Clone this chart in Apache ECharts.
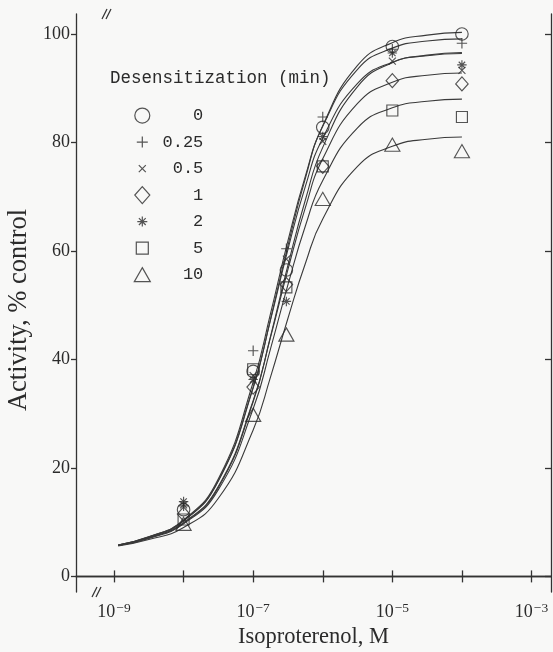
<!DOCTYPE html>
<html>
<head>
<meta charset="utf-8">
<script src="https://cdn.jsdelivr.net/npm/echarts@6/dist/echarts.min.js"></script>
<style>
  html, body { margin: 0; padding: 0; background: #f8f8f7; }
  #chart { width: 553px; height: 652px; }
</style>
</head>
<body>
<div id="chart"></div>
<script>
// Isoproterenol dose (M) at which activity was measured
const doseM = [1e-8, 1e-7, 3e-7, 1e-6, 1e-5, 1e-4];

// Desensitization time (min) for each group
const groupNames = ['0', '0.25', '0.5', '1', '2', '5', '10'];

// Measured activity, % of control
const act0   = [12.3, 37.8, 56.5, 82.8, 97.7, 100.0];
const act025 = [13.0, 41.6, 60.4, 84.7, 97.2, 98.3];
const act05  = [13.2, 37.0, 58.5, 80.2, 95.0, 93.3];
const act1   = [11.5, 34.9, 53.8, 75.6, 91.4, 90.8];
const act2   = [13.8, 36.3, 50.7, 81.1, 96.5, 94.3];
const act5   = [10.5, 38.2, 53.3, 75.6, 85.9, 84.7];
const act10  = [9.7, 29.8, 44.6, 69.6, 79.6, 78.4];

// Fitted dose-response curves, sampled along log10 dose
const fitLogDose = [-8.94, -8.5, -8, -7.5, -7, -6.75, -6.5, -6.25, -6, -5.5, -5, -4.5, -4];
const fit0   = [5.8, 7.2, 10.2, 17.6, 34.7, 47.5, 61.0, 73.4, 83.1, 94.2, 98.4, 99.8, 100.3];
const fit025 = [5.8, 7.3, 10.4, 18.0, 35.8, 48.5, 61.9, 73.8, 83.0, 93.5, 97.4, 98.7, 99.1];
const fit05  = [5.8, 7.3, 10.3, 17.7, 34.9, 47.3, 60.3, 71.9, 80.8, 90.9, 94.8, 96.0, 96.4];
const fit1   = [5.7, 7.1, 9.9, 16.6, 32.4, 44.1, 56.6, 68.0, 77.0, 87.2, 91.1, 92.4, 92.8];
const fit2   = [5.7, 7.1, 9.8, 16.4, 32.2, 44.3, 57.4, 69.4, 79.1, 90.3, 94.7, 96.1, 96.6];
const fit5   = [5.7, 7.0, 9.7, 16.0, 30.9, 42.0, 53.8, 64.6, 73.0, 82.7, 86.4, 87.6, 88.0];
const fit10  = [5.6, 6.8, 9.0, 14.4, 27.0, 36.8, 47.6, 57.7, 65.9, 75.6, 79.3, 80.6, 81.0];

// Axis ticks (x in log10 units)
const xTickExp = [-9, -8, -7, -6, -5, -4, -3];
const xLabelExp = [-9, -7, -5, -3];
const yTicks = [0, 20, 40, 60, 80, 100];

const activity = [act0, act025, act05, act1, act2, act5, act10];
const fits = [fit0, fit025, fit05, fit1, fit2, fit5, fit10];

// Marker outlines drawn in an 18x18 box; the zero-length corner segments
// keep every marker on the same scale box.
const box = 'M0 0L0 0M18 18L18 18';
const markers = [
  'path://' + box + 'M1.5 9A7.5 7.5 0 1 1 16.5 9A7.5 7.5 0 1 1 1.5 9Z',
  'path://' + box + 'M9 3.5L9 14.5M3.5 9L14.5 9',
  'path://' + box + 'M5.5 5.5L12.5 12.5M12.5 5.5L5.5 12.5',
  'path://' + box + 'M9 0.5L16.5 9L9 17.5L1.5 9Z',
  'path://' + box + 'M9 4L9 14M4 9L14 9M5.6 5.6L12.4 12.4M12.4 5.6L5.6 12.4',
  'path://' + box + 'M3 3L15 3L15 15L3 15Z',
  'path://' + box + 'M9 2L17 16L1 16Z'
];
const markerSizes = [15, 17, 18, 15, 17, 16.5, 17];

const ink = '#2b2b2b';
const serif = 'Liberation Serif';
const mono = 'Liberation Mono';

const series = [];
fits.forEach(function (f, i) {
  series.push({
    name: 'fit ' + groupNames[i],
    type: 'line',
    data: fitLogDose.map(function (x, j) { return [x, f[j]]; }),
    smooth: true,
    symbol: 'none',
    silent: true,
    z: 2,
    lineStyle: { color: '#3a3a3a', width: 1.1 }
  });
});
activity.forEach(function (vals, i) {
  series.push({
    name: groupNames[i],
    type: 'scatter',
    data: doseM.map(function (d, j) { return [Math.log10(d), vals[j]]; }),
    symbol: markers[i],
    symbolSize: markerSizes[i],
    symbolKeepAspect: true,
    z: 3,
    itemStyle: { color: 'rgba(0,0,0,0)', borderColor: ink, borderWidth: 1.15 }
  });
});

const axisLineStyle = { color: '#333', width: 1.3 };

const option = {
  backgroundColor: '#f8f8f7',
  animation: false,
  title: {
    text: 'Desensitization (min)',
    left: 110,
    top: 69,
    padding: 0,
    textStyle: { fontFamily: mono, fontSize: 17.5, fontWeight: 'normal', color: ink }
  },
  legend: {
    orient: 'vertical',
    left: 132.7,
    top: 106,
    padding: 0,
    itemWidth: 18,
    itemHeight: 18,
    itemGap: 7.3,
    selectedMode: false,
    data: groupNames.map(function (n, i) { return { name: n, icon: markers[i] }; }),
    itemStyle: { color: 'rgba(0,0,0,0)', borderColor: ink, borderWidth: 1.2 },
    formatter: function (n) { return '{v|' + n + '}'; },
    textStyle: {
      fontFamily: mono, fontSize: 17, color: ink, lineHeight: 18,
      rich: { v: { width: 47, align: 'right', fontFamily: mono, fontSize: 17, color: ink } }
    }
  },
  grid: { left: 76, right: 2, top: 14, bottom: 60, containLabel: false, outerBoundsMode: 'none' },
  xAxis: [
    {
      type: 'value',
      position: 'bottom',
      min: -9.546,
      max: -2.72,
      splitLine: { show: false },
      axisLine: { lineStyle: axisLineStyle },
      axisTick: { inside: true, length: 6, customValues: xTickExp, lineStyle: axisLineStyle },
      axisLabel: {
        customValues: xLabelExp,
        margin: 9,
        formatter: function (v) { return '{b|10}{e|\u2212' + Math.abs(v) + '}'; },
        rich: {
          b: { fontFamily: serif, fontSize: 18, color: ink, lineHeight: 22 },
          e: { fontFamily: serif, fontSize: 13.5, color: ink, lineHeight: 12, verticalAlign: 'top', padding: [0, 0, 0, 1] }
        }
      },
      name: 'Isoproterenol, M',
      nameLocation: 'middle',
      nameGap: 34,
      nameTextStyle: { fontFamily: serif, fontSize: 22.5, color: ink }
    },
    {
      type: 'value',
      position: 'top',
      min: -9.546,
      max: -2.72,
      splitLine: { show: false },
      axisLine: { lineStyle: axisLineStyle },
      axisTick: { inside: true, length: 6, customValues: xTickExp, lineStyle: axisLineStyle },
      axisLabel: { show: false }
    }
  ],
  yAxis: [
    {
      type: 'value',
      position: 'left',
      min: -2.876,
      max: 103.69,
      splitLine: { show: false },
      axisLine: { lineStyle: axisLineStyle },
      axisTick: { inside: false, length: 5, customValues: yTicks, lineStyle: axisLineStyle },
      axisLabel: { customValues: yTicks, margin: 6, fontFamily: serif, fontSize: 18, color: ink },
      name: 'Activity, % control',
      nameLocation: 'middle',
      nameGap: 39,
      nameTextStyle: { fontFamily: serif, fontSize: 26.5, color: ink, padding: [0, 14, 0, 0] }
    },
    {
      type: 'value',
      position: 'right',
      min: -2.876,
      max: 103.69,
      splitLine: { show: false },
      axisLine: { lineStyle: axisLineStyle },
      axisTick: { inside: true, length: 6, customValues: yTicks, lineStyle: axisLineStyle },
      axisLabel: { show: false }
    }
  ],
  graphic: [
    // axis break marks
    { type: 'line', shape: { x1: 92, y1: 597, x2: 97, y2: 587 }, style: { stroke: '#333', lineWidth: 1.2 } },
    { type: 'line', shape: { x1: 96, y1: 597, x2: 101, y2: 587 }, style: { stroke: '#333', lineWidth: 1.2 } },
    { type: 'line', shape: { x1: 102, y1: 19, x2: 107, y2: 9 }, style: { stroke: '#333', lineWidth: 1.2 } },
    { type: 'line', shape: { x1: 106, y1: 19, x2: 111, y2: 9 }, style: { stroke: '#333', lineWidth: 1.2 } }
  ],
  series: series
};

const chart = echarts.init(document.getElementById('chart'), null, { renderer: 'canvas' });
chart.setOption(option);
</script>
</body>
</html>
